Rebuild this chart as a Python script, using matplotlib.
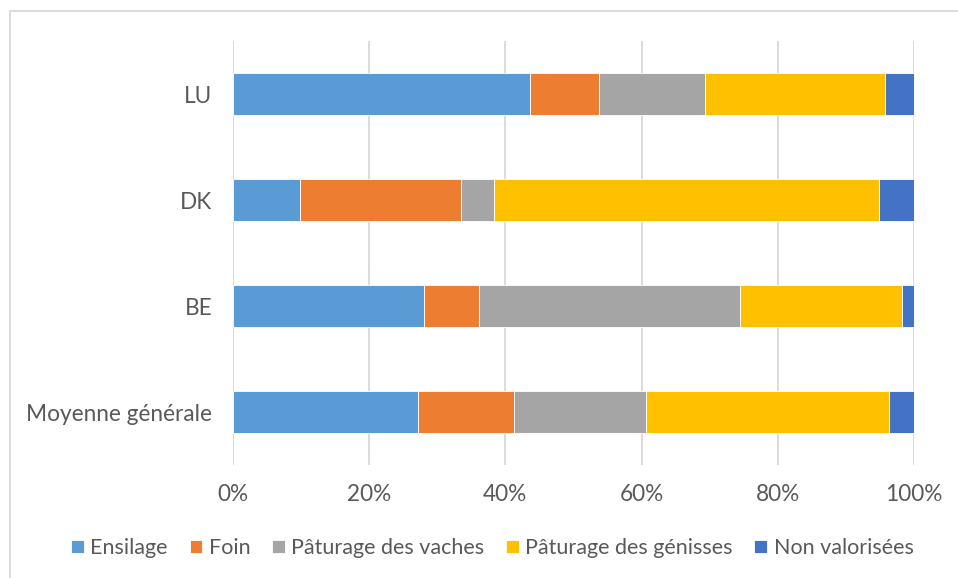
import numpy as np
import matplotlib.pyplot as plt
from matplotlib.patches import Rectangle

plt.rcParams['font.family'] = ['Lato', 'DejaVu Sans']

categories = ['Moyenne générale', 'BE', 'DK', 'LU']
series_names = ['Ensilage', 'Foin', 'Pâturage des vaches', 'Pâturage des génisses', 'Non valorisées']
# shares in %, one list per series, in the order of categories
ensilage = [27.2, 28.1, 9.9, 43.6]
foin = [14.0, 8.1, 23.6, 10.2]
vaches = [19.5, 38.2, 4.9, 15.5]
genisses = [35.6, 23.8, 56.4, 26.5]
non_valorisees = [3.7, 1.8, 5.2, 4.2]

colors = ['#5B9BD5', '#ED7D31', '#A5A5A5', '#FFC000', '#4472C4']
text_color = '#595959'

fig = plt.figure(figsize=(9.58, 5.78), dpi=100)
ax = fig.add_axes([0.2432, 0.1955, 0.7108, 0.7335])

y = np.arange(len(categories))
left = np.zeros(len(categories))
for name, vals, col in zip(series_names, [ensilage, foin, vaches, genisses, non_valorisees], colors):
    vals = np.array(vals, dtype=float)
    ax.barh(y, vals, left=left, height=0.4, color=col, label=name,
            edgecolor='white', linewidth=0.6, zorder=3)
    left += vals

ax.set_xlim(0, 100)
ax.set_ylim(-0.5, len(categories) - 0.5)
ax.set_xticks(np.arange(0, 101, 20))
ax.set_xticklabels([f'{t}%' for t in range(0, 101, 20)])
ax.set_yticks(y)
ax.set_yticklabels(categories)
ax.tick_params(axis='both', length=0, labelsize=16.3, colors=text_color)
ax.tick_params(axis='x', pad=14)
ax.tick_params(axis='y', pad=15)
ax.grid(axis='x', color='#D9D9D9', linewidth=1.3, zorder=0)
for s in ax.spines.values():
    s.set_visible(False)

leg = fig.legend(loc='center', bbox_to_anchor=(0.514, 0.052), ncol=5, frameon=False,
                 fontsize=15.5, handlelength=0.6, handleheight=0.6, handletextpad=0.3,
                 columnspacing=1.0)
for t in leg.get_texts():
    t.set_color(text_color)

# chart area border (only left and top edges visible)
fig.patches.append(Rectangle((9.5 / 958, -0.1), 1.2, 1.1 - 11.5 / 578,
                             transform=fig.transFigure, fill=False,
                             edgecolor='#D9D9D9', linewidth=1.3))

fig.savefig('out.png', dpi=100)
